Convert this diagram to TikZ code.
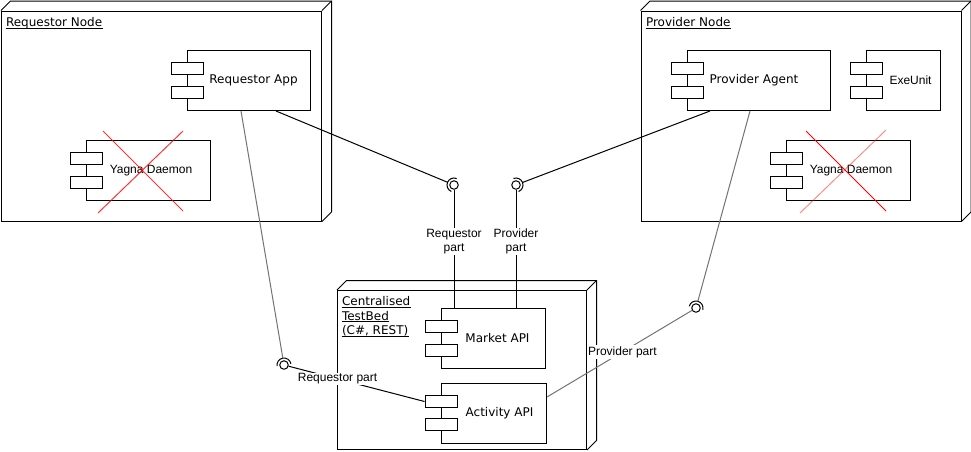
\documentclass[tikz,border=0pt]{standalone}
\usepackage{fontspec}
\setmainfont{DejaVu Sans}
\newfontfamily\arialf{Liberation Sans}
\usetikzlibrary{calc}
\begin{document}
\begin{tikzpicture}[x=1pt,y=-1pt,line width=1pt,
  vfont/.style={font=\fontsize{12}{14.5}\selectfont},
  afont/.style={font=\arialf\fontsize{12}{14}\selectfont},
  frontbox/.style={draw,fill=white,inner sep=0,anchor=north west},
  comp/.style={draw,fill=white,inner sep=0,anchor=north west,minimum height=60pt},
  port/.style={draw,fill=white,minimum width=32pt,minimum height=12pt,inner sep=0},
  title/.style={vfont,inner sep=0,anchor=base west},
  uline/.style={line width=0.8pt},
  lolli/.style={draw,circle,fill=white,minimum size=8.5pt,inner sep=0},
  lbl/.style={afont,fill=white,align=center,inner sep=1pt},
  greyline/.style={draw=black!55},
  cross/.style={draw=red,line width=1pt}]
\useasboundingbox (0,0) rectangle (971,451);

% ---------- Requestor Node ----------
\node[frontbox,minimum width=320pt,minimum height=210pt] (rn) at (1,10.5) {};
\draw (rn.north west) -- ++(9.5,-9.5) -- ($(rn.north east)+(9.5,-9.5)$) -- ($(rn.south east)+(9.5,-9.5)$) -- (rn.south east);
\draw (rn.north east) -- ++(9.5,-9.5);
\node[title] (rnt) at (5.5,26.5) {Requestor Node};
\draw[uline] ($(rnt.base west)+(0,1.5)$) -- ($(rnt.base east)+(0,1.5)$);

% ---------- Provider Node ----------
\node[frontbox,minimum width=320pt,minimum height=210pt] (pn) at (640.5,10.5) {};
\draw (pn.north west) -- ++(9.5,-9.5) -- ($(pn.north east)+(9.5,-9.5)$) -- ($(pn.south east)+(9.5,-9.5)$) -- (pn.south east);
\draw (pn.north east) -- ++(9.5,-9.5);
\node[title] (pnt) at (645.5,26.5) {Provider Node};
\draw[uline] ($(pnt.base west)+(0,1.5)$) -- ($(pnt.base east)+(0,1.5)$);

% ---------- Centralised TestBed ----------
\node[frontbox,minimum width=249pt,minimum height=159pt] (tb) at (337,290) {};
\draw (tb.north west) -- ++(9.5,-9.5) -- ($(tb.north east)+(9.5,-9.5)$) -- ($(tb.south east)+(9.5,-9.5)$) -- (tb.south east);
\draw (tb.north east) -- ++(9.5,-9.5);
\node[title] (tbt1) at (341.5,305.5) {Centralised\ };
\node[title] (tbt2) at (341.5,320) {TestBed};
\node[title] (tbt3) at (341.5,334.5) {(C\#, REST)};
\foreach \t in {tbt1,tbt2,tbt3}
  \draw[uline] ($(\t.base west)+(0,1.5)$) -- ($(\t.base east)+(0,1.5)$);

% ---------- Components ----------
\node[comp,minimum width=123pt,label={[vfont,xshift=4.5pt]center:Requestor App}] (reqapp) at (187,50) {};
\node[port] (reqappa) at ($(reqapp.north west)+(0,18)$) {};
\node[port] (reqappb) at ($(reqapp.north west)+(0,42)$) {};

\node[comp,minimum width=124pt,label={[afont,xshift=2.5pt]center:Yagna Daemon}] (yagr) at (86,140) {};
\node[port] (yagra) at ($(yagr.north west)+(0,18)$) {};
\node[port] (yagrb) at ($(yagr.north west)+(0,42)$) {};

\node[comp,minimum width=143pt,label={[vfont,xshift=-5pt]center:Provider Agent}] (provag) at (687,50) {};
\node[port] (provaga) at ($(provag.north west)+(0,18)$) {};
\node[port] (provagb) at ($(provag.north west)+(0,42)$) {};

\node[comp,minimum width=74pt,label={[afont,xshift=7pt]center:ExeUnit}] (exeu) at (866,50) {};
\node[port] (exeua) at ($(exeu.north west)+(0,18)$) {};
\node[port] (exeub) at ($(exeu.north west)+(0,42)$) {};

\node[comp,minimum width=124pt,label={[afont,xshift=2.5pt]center:Yagna Daemon}] (yagp) at (786,140) {};
\node[port] (yagpa) at ($(yagp.north west)+(0,18)$) {};
\node[port] (yagpb) at ($(yagp.north west)+(0,42)$) {};

\node[comp,minimum width=104pt,label={[vfont,xshift=4pt]center:Market API}] (market) at (441,308) {};
\node[port] (marketa) at ($(market.north west)+(0,18.5)$) {};
\node[port] (marketb) at ($(market.north west)+(0,42)$) {};

\node[comp,minimum width=105pt,label={[vfont,xshift=5.5pt]center:Activity API}] (activity) at (441,382.5) {};
\node[port] (activitya) at ($(activity.north west)+(0,19)$) {};
\node[port] (activityb) at ($(activity.north west)+(0,42)$) {};

% ---------- red crosses ----------
\draw[cross,opacity=0.8] (103,131) -- (183,211);
\draw[cross,opacity=0.8] (183,131) -- (98,213);
\draw[cross] (806,131) -- (886,211);
\draw[cross,opacity=0.45] (886,130) -- (800,213);

% ---------- interface sockets ----------
\node[lolli] (s1) at (454,185) {};
\node[lolli] (s2) at (516,185) {};
\node[lolli] (s3) at (284,365) {};
\node[lolli] (s4) at (696,308) {};
\draw (s1.center) ++(112.9:7) arc[start angle=112.9,end angle=292.9,radius=7];
\draw (s2.center) ++(-111.1:7) arc[start angle=-111.1,end angle=68.9,radius=7];
\draw (s3.center) ++(170.4:7) arc[start angle=170.4,end angle=350.4,radius=7];
\draw (s4.center) ++(-164.7:7) arc[start angle=-164.7,end angle=15.3,radius=7];
\coordinate (s1a) at ($(s1)+(202.9:7)$);
\coordinate (s2a) at ($(s2)+(-21.1:7)$);
\coordinate (s3a) at ($(s3)+(260.4:7)$);
\coordinate (s4a) at ($(s4)+(-74.7:7)$);

% ---------- connector end points on components ----------
\coordinate (raR) at ($(reqapp.south west)+(89,0)$);
\coordinate (raA) at ($(reqapp.south west)+(54,0)$);
\coordinate (paM) at ($(provag.south west)+(23,0)$);
\coordinate (paA) at ($(provag.south west)+(63,0)$);
\coordinate (mkR) at ($(market.north west)+(13,0)$);
\coordinate (mkP) at ($(market.north west)+(75,0)$);
\coordinate (acP) at ($(activity.north east)+(0,14.5)$);

% ---------- connectors ----------
\draw (raR) -- (s1a);
\draw (paM) -- (s2a);
\draw (s1) -- node[lbl,pos=0.44] (l1) {Requestor\\part} (mkR);
\draw (s2) -- node[lbl,pos=0.44] (l2) {Provider\\part} (mkP);
\draw[greyline] (raA) -- (s3a);
\draw (s3) -- node[lbl,pos=0.36] (l3) {Requestor part} (activitya.west);
\draw[greyline] (paA) -- (s4a);
\draw[greyline] (s4) -- node[lbl,pos=0.48] (l4) {Provider part} (acP);
\end{tikzpicture}
\end{document}
